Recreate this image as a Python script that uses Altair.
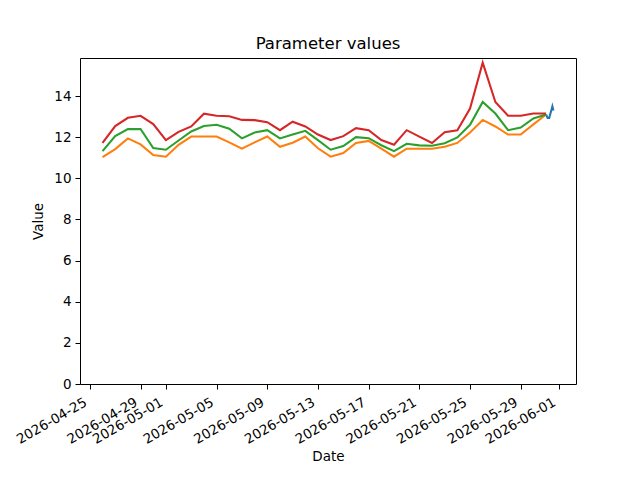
import altair as alt
import pandas as pd

# ---- data ----
daily_dates = pd.date_range("2026-04-26", periods=36, freq="D").strftime("%Y-%m-%dT%H:%M:%S").tolist()

high = [11.72, 12.54, 12.94, 13.04, 12.64, 11.86, 12.26, 12.52, 13.14, 13.04,
        13.02, 12.84, 12.83, 12.73, 12.34, 12.75, 12.52, 12.13, 11.86, 12.05,
        12.44, 12.34, 11.86, 11.63, 12.34, 12.03, 11.72, 12.24, 12.34, 13.39,
        15.62, 13.71, 13.04, 13.04, 13.15, 13.15]
mid = [11.32, 12.05, 12.39, 12.40, 11.47, 11.39, 11.84, 12.28, 12.54, 12.60,
       12.41, 11.94, 12.23, 12.34, 11.94, 12.13, 12.31, 11.86, 11.39, 11.57,
       12.00, 11.95, 11.61, 11.32, 11.68, 11.60, 11.58, 11.71, 11.99, 12.60,
       13.71, 13.15, 12.34, 12.47, 12.91, 13.10]
low = [11.03, 11.42, 11.94, 11.65, 11.13, 11.05, 11.63, 12.03, 12.03, 12.03,
       11.75, 11.44, 11.75, 12.03, 11.53, 11.73, 12.03, 11.46, 11.05, 11.23,
       11.72, 11.82, 11.44, 11.05, 11.44, 11.44, 11.44, 11.53, 11.72, 12.23,
       12.84, 12.52, 12.13, 12.13, 12.62, 13.10]

recent_dates = ["2026-05-31T00:00:00", "2026-05-31T03:00:00", "2026-05-31T06:00:00",
                "2026-05-31T12:00:00", "2026-05-31T14:00:00"]
recent = [13.10, 12.93, 12.93, 13.50, 13.30]

tick_dates = ["2026-04-25", "2026-04-29", "2026-05-01", "2026-05-05", "2026-05-09",
              "2026-05-13", "2026-05-17", "2026-05-21", "2026-05-25", "2026-05-29",
              "2026-06-01"]
y_ticks = [0, 2, 4, 6, 8, 10, 12, 14]

colors = {"recent": "#1f77b4", "low": "#ff7f0e", "mid": "#2ca02c", "high": "#d62728"}

# ---- tables ----
frames = [pd.DataFrame({"date": recent_dates, "value": recent, "series": "recent"})]
for name, vals in [("low", low), ("mid", mid), ("high", high)]:
    frames.append(pd.DataFrame({"date": daily_dates, "value": vals, "series": name}))
df = pd.concat(frames, ignore_index=True)

ts = pd.to_datetime(df["date"])
t0, t1 = ts.min(), ts.max()
pad = (t1 - t0) * 0.05
d0, d1 = t0 - pad, t1 + pad


def to_dt(t):
    return alt.DateTime(year=t.year, month=t.month, date=t.day, hours=t.hour,
                        minutes=t.minute, seconds=t.second)


vmin, vmax = min(low + mid + high + recent), max(low + mid + high + recent)
ytop = vmax + 0.05 * (vmax - vmin)

tick_vals = [to_dt(pd.Timestamp(d)) for d in tick_dates]

FONT = "DejaVu Sans"

x_enc = alt.X("date:T",
              scale=alt.Scale(domain=[to_dt(d0), to_dt(d1)], nice=False),
              axis=alt.Axis(values=tick_vals, format="%Y-%m-%d", labelAngle=330,
                            labelAlign="right", labelBaseline="top", title="Date",
                            labelOverlap=False, labelOffset=-8, labelPadding=6,
                            titlePadding=4))
y_enc = alt.Y("value:Q",
              scale=alt.Scale(domain=[0, ytop], nice=False, zero=True),
              axis=alt.Axis(values=y_ticks, title="Value", titlePadding=8))

layers = []
for name in ["recent", "low", "mid", "high"]:
    layers.append(
        alt.Chart(df[df["series"] == name])
        .mark_line(color=colors[name], strokeWidth=2.08)
        .encode(x=x_enc, y=y_enc)
    )

chart = (
    alt.layer(*layers)
    .properties(
        width=496, height=326,
        title=alt.TitleParams("Parameter values", fontSize=16.5, font=FONT,
                              fontWeight="normal", color="black",
                              baseline="alphabetic", offset=-7),
        autosize=alt.AutoSizeParams(type="none"),
        padding={"left": 72, "top": 50, "right": 56, "bottom": 88},
    )
    .configure(background="white")
    .configure_view(stroke="black", strokeWidth=1)
    .configure_axis(
        grid=False, domain=False,
        tickColor="black", tickSize=5, tickWidth=1,
        labelColor="black", labelFont=FONT, labelFontSize=13.5, labelPadding=4,
        titleColor="black", titleFont=FONT, titleFontSize=13.5, titleFontWeight="normal",
    )
)

chart.save("out.html", embed_options={"renderer": "svg", "actions": False})
